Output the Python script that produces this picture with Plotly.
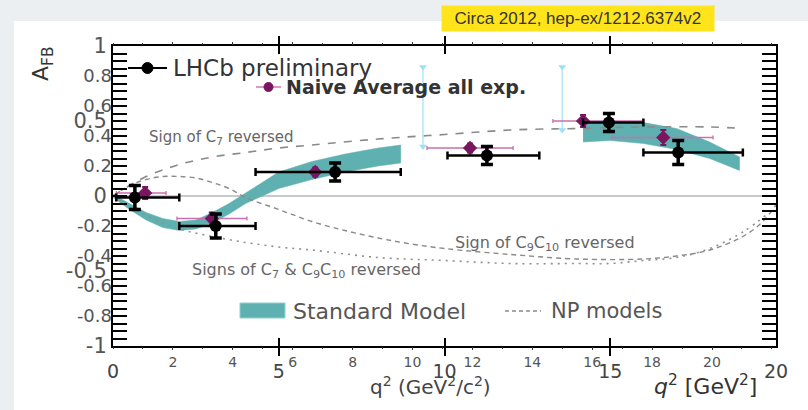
import plotly.graph_objects as go

# ---------------- data (q^2 in GeV^2, A_FB) ----------------
# Standard Model band, low-q2 segment
sm1_q = [0, 0.5, 1, 1.5, 2, 2.5, 3, 3.5, 4, 5, 6, 7, 8, 8.68]
sm1_lo = [-0.01, -0.09, -0.16, -0.21, -0.23, -0.22, -0.18, -0.12, -0.05, 0.05, 0.11, 0.16, 0.20, 0.22]
sm1_hi = [0.01, -0.05, -0.11, -0.15, -0.17, -0.16, -0.11, -0.05, 0.02, 0.16, 0.23, 0.28, 0.32, 0.34]
# Standard Model band, high-q2 segment
sm2_q = [14.18, 15, 16, 17, 18, 18.9]
sm2_lo = [0.36, 0.37, 0.35, 0.31, 0.25, 0.17]
sm2_hi = [0.50, 0.50, 0.49, 0.45, 0.36, 0.26]

# NP model curves
c7_q = [0, 0.5, 1, 2, 3, 4, 5, 6, 8, 10, 12, 14, 16, 18, 19]
c7_a = [0, 0.07, 0.13, 0.21, 0.26, 0.29, 0.32, 0.34, 0.38, 0.41, 0.44, 0.45, 0.46, 0.46, 0.45]
c910_q = [0, 0.5, 1, 1.5, 2, 2.5, 3, 3.5, 4, 5, 6, 7, 8, 9, 10, 12, 14, 16, 17, 18, 19, 19.6, 20]
c910_a = [0, 0.07, 0.11, 0.13, 0.13, 0.12, 0.09, 0.05, -0.01, -0.09, -0.17, -0.23, -0.28, -0.32,
          -0.35, -0.39, -0.42, -0.42, -0.40, -0.36, -0.27, -0.17, -0.06]
both_q = [0, 0.5, 1, 2, 3, 4, 5, 6, 8, 10, 12, 14, 15, 16, 17, 18, 19, 19.8]
both_a = [0, -0.07, -0.13, -0.22, -0.27, -0.31, -0.34, -0.36, -0.41, -0.43, -0.45, -0.45, -0.45,
          -0.43, -0.41, -0.35, -0.24, -0.11]

# LHCb preliminary points
lhcb_q = [0.66, 3.1, 6.7, 11.28, 14.96, 17.05]
lhcb_lo = [0.1, 2.0, 4.3, 10.09, 14.18, 16.0]
lhcb_hi = [2.0, 4.3, 8.68, 12.86, 16.0, 19.0]
lhcb_afb = [-0.01, -0.20, 0.16, 0.27, 0.49, 0.29]
lhcb_err = [0.08, 0.08, 0.06, 0.06, 0.06, 0.08]

# Naive average of all experiments
avg_q = [0.97, 2.98, 6.1, 10.77, 14.18, 16.6]
avg_lo = [0.1, 1.93, 4.3, 9.47, 13.27, 15.05]
avg_hi = [1.6, 4.04, 8.68, 12.07, 16.0, 18.1]
avg_afb = [0.02, -0.15, 0.16, 0.32, 0.50, 0.39]
avg_err = [0.04, 0.04, 0.03, 0.03, 0.04, 0.05]

# charmonium veto markers
veto_q = [9.35, 13.55]
veto_top = [0.86, 0.86]
veto_bot = [0.33, 0.44]

# tick labels
y_small = [-0.8, -0.6, -0.4, -0.2, 0.2, 0.4, 0.6, 0.8]
y_big = [-1, -0.5, 0, 0.5, 1]
x_small = [2, 4, 6, 8, 10, 12, 14, 16, 18, 20]
x_big = [0, 5, 10, 15, 20]

# ---------------- layout helpers ----------------
W, H = 808, 410
L, R, T, B = 113, 776, 46, 346
PW, PH = R - L, B - T


def px(x):
    return (x - L) / PW


def py(y):
    return (B - y) / PH


TEAL = "#5fb1b1"
PURPLE = "#7a1660"
PINK = "#cc6fae"
FONT = "DejaVu Sans"

fig = go.Figure()


def add_band(q, lo, hi):
    xs = list(q) + list(q)[::-1]
    ys = list(hi) + list(lo)[::-1]
    fig.add_trace(go.Scatter(x=xs, y=ys, mode="lines",
                             fill="toself", fillcolor=TEAL,
                             line=dict(color=TEAL, width=0.5),
                             hoverinfo="skip", showlegend=False))


add_band(sm1_q, sm1_lo, sm1_hi)
add_band(sm2_q, sm2_lo, sm2_hi)

fig.add_trace(go.Scatter(x=c7_q, y=c7_a, mode="lines",
                         line=dict(color="#8a8a8a", width=1.6, dash="8px,8px", shape="spline"),
                         showlegend=False))
fig.add_trace(go.Scatter(x=c910_q, y=c910_a, mode="lines",
                         line=dict(color="#8a8a8a", width=1.4, dash="5px,4px", shape="spline"),
                         showlegend=False))
fig.add_trace(go.Scatter(x=both_q, y=both_a, mode="lines",
                         line=dict(color="#909090", width=1.6, dash="2px,5px", shape="spline"),
                         showlegend=False))

# veto markers
for q, t, b in zip(veto_q, veto_top, veto_bot):
    fig.add_trace(go.Scatter(x=[q, q], y=[t, b], mode="lines+markers",
                             line=dict(color="#9fe0f5", width=1.2),
                             marker=dict(symbol="triangle-down", size=7, color="#9fe0f5"),
                             showlegend=False))

# naive average
fig.add_trace(go.Scatter(
    x=avg_q, y=avg_afb, mode="markers",
    marker=dict(symbol="diamond", size=11, color=PURPLE),
    error_x=dict(type="data", symmetric=False,
                 array=[h - q for h, q in zip(avg_hi, avg_q)],
                 arrayminus=[q - l for l, q in zip(avg_lo, avg_q)],
                 color=PINK, thickness=1.3, width=2),
    error_y=dict(type="data", array=avg_err, color=PURPLE, thickness=2, width=3),
    showlegend=False))

# LHCb
fig.add_trace(go.Scatter(
    x=lhcb_q, y=lhcb_afb, mode="markers",
    marker=dict(symbol="circle", size=12, color="black"),
    error_x=dict(type="data", symmetric=False,
                 array=[h - q for h, q in zip(lhcb_hi, lhcb_q)],
                 arrayminus=[q - l for l, q in zip(lhcb_lo, lhcb_q)],
                 color="black", thickness=2.5, width=4),
    error_y=dict(type="data", array=lhcb_err, color="black", thickness=3.5, width=6),
    showlegend=False))

# invisible anchors so the overlay axes are drawn
fig.add_trace(go.Scatter(x=[1], y=[0], xaxis="x2", yaxis="y", mode="markers",
                         marker=dict(opacity=0), hoverinfo="skip", showlegend=False))
fig.add_trace(go.Scatter(x=[1], y=[0], xaxis="x", yaxis="y2", mode="markers",
                         marker=dict(opacity=0), hoverinfo="skip", showlegend=False))

shapes = [
    # white page panel
    dict(type="rect", xref="paper", yref="paper", x0=px(14), x1=px(812), y0=py(414), y1=py(21),
         fillcolor="white", line=dict(width=0), layer="below"),
    # legend: LHCb
    dict(type="line", xref="paper", yref="paper", x0=px(128), x1=px(167), y0=py(68), y1=py(68),
         line=dict(color="black", width=2.2)),
    dict(type="circle", xref="paper", yref="paper", x0=px(142), x1=px(153), y0=py(73.5), y1=py(62.5),
         fillcolor="black", line=dict(color="black", width=1)),
    # legend: naive average
    dict(type="line", xref="paper", yref="paper", x0=px(256), x1=px(281), y0=py(87), y1=py(87),
         line=dict(color=PINK, width=1.4)),
    dict(type="circle", xref="paper", yref="paper", x0=px(264), x1=px(273), y0=py(91.5), y1=py(82.5),
         fillcolor=PURPLE, line=dict(color=PURPLE, width=1)),
    # legend: SM band
    dict(type="rect", xref="paper", yref="paper", x0=px(240), x1=px(285), y0=py(318), y1=py(303),
         fillcolor=TEAL, line=dict(color="#8fd0d0", width=1)),
    # legend: NP models
    dict(type="line", xref="paper", yref="paper", x0=px(505), x1=px(541), y0=py(311), y1=py(311),
         line=dict(color="#8a8a8a", width=1.3, dash="4px,3px")),
]


def ann(text, x, y, size, color="#333333", xanchor="center", bold=False, family=FONT, **kw):
    return dict(text=("<b>%s</b>" % text) if bold else text, xref="paper", yref="paper",
                x=px(x), y=py(y), xanchor=xanchor, yanchor="middle", showarrow=False,
                font=dict(family=family, size=size, color=color), **kw)


annotations = [
    ann("LHCb preliminary", 171, 68, 23, "#333333", xanchor="left"),
    ann("Naive Average all exp.", 284, 87, 19, "#333333", xanchor="left", bold=True),
    ann("Standard Model", 291, 311, 22, "#555555", xanchor="left"),
    ann("NP models", 549, 311, 21, "#555555", xanchor="left"),
    ann("Sign of C<sub>7</sub> reversed", 221, 137, 15, "#666666"),
    ann("Sign of C<sub>9</sub>C<sub>10</sub> reversed", 545, 243, 16, "#666666"),
    ann("Signs of C<sub>7</sub> &amp; C<sub>9</sub>C<sub>10</sub> reversed", 306, 270, 16, "#666666"),
    ann("q<sup>2</sup> (GeV<sup>2</sup>/c<sup>2</sup>)", 430, 386, 20, "#444444"),
    ann("<i>q</i><sup>2</sup> [GeV<sup>2</sup>]", 705, 385, 22, "#333333"),
    ann("A<sub>FB</sub>", 42, 64, 22, "#333333", textangle=-90),
    ann("&nbsp;&nbsp;Circa 2012, hep-ex/1212.6374v2&nbsp;&nbsp;", 578, 18, 17, "#333333",
        family="Liberation Sans", bgcolor="#ffe41c", borderpad=3),
]

fig.update_layout(
    width=W, height=H,
    margin=dict(l=L, r=W - R, t=T, b=H - B, pad=0),
    paper_bgcolor="#eceff1",
    plot_bgcolor="white",
    showlegend=False,
    shapes=shapes,
    annotations=annotations,
    xaxis=dict(range=[0, 20], anchor="y", side="bottom",
               tickmode="array", tickvals=x_big, ticktext=[str(v) for v in x_big],
               ticks="inside", ticklen=8, tickwidth=1.5, tickcolor="black",
               tickfont=dict(family=FONT, size=19, color="#444444"), ticklabelstandoff=7,
               showline=True, linecolor="black", linewidth=2, mirror="allticks",
               showgrid=False, zeroline=False),
    xaxis2=dict(range=[0, PW / 29.95], overlaying="x", anchor="y", side="bottom",
                tickmode="array", tickvals=x_small, ticktext=[str(v) for v in x_small],
                ticks="outside", ticklen=3, tickwidth=1.2, tickcolor="#333",
                tickfont=dict(family=FONT, size=14, color="#555555"),
                minor=dict(dtick=1, ticks="outside", ticklen=2, tickcolor="#333"),
                showline=False, mirror="allticks", showgrid=False, zeroline=False),
    yaxis=dict(range=[-1, 1], anchor="x", side="left",
               tickmode="array", tickvals=y_big, ticktext=[("%g" % v) for v in y_big],
               ticks="inside", ticklen=14, tickwidth=2, tickcolor="black",
               tickfont=dict(family=FONT, size=21, color="#555555"),
               minor=dict(dtick=0.05, tick0=0, ticks="inside", ticklen=5, tickcolor="black"),
               showline=True, linecolor="black", linewidth=2, mirror="allticks",
               showgrid=False, zeroline=True, zerolinecolor="#c9c9c9", zerolinewidth=1.5),
    yaxis2=dict(range=[-1, 1], overlaying="y", anchor="x", side="left",
                tickmode="array", tickvals=y_small, ticktext=[("%g" % v) for v in y_small],
                ticks="inside", ticklen=10, tickwidth=1.5, tickcolor="black",
                tickfont=dict(family=FONT, size=18, color="#555555"),
                showline=False, mirror="allticks", showgrid=False, zeroline=False),
)

fig.write_html("out.html")
